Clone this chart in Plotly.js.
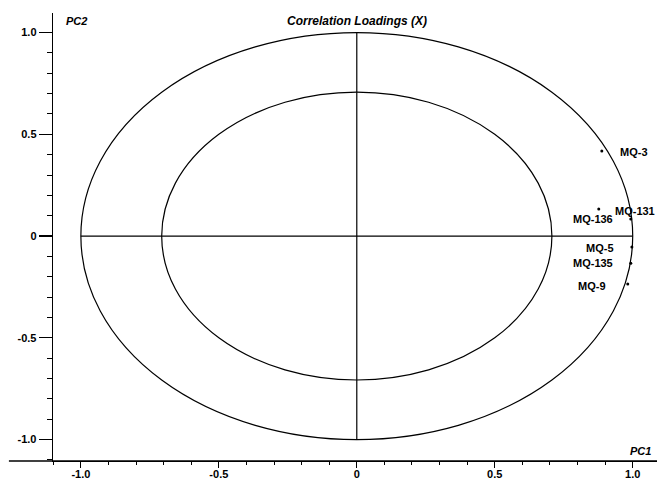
<!DOCTYPE html>
<html>
<head>
<meta charset="utf-8">
<script src="https://cdn.plot.ly/plotly-3.0.1.min.js"></script>
<style>html,body{margin:0;padding:0;background:#fff;}#chart{width:657px;height:481px;}</style>
</head>
<body>
<div id="chart"></div>
<script>
// Data
const sensors = ["MQ-3", "MQ-136", "MQ-131", "MQ-5", "MQ-135", "MQ-9"];
const pc1 = [0.888, 0.877, 0.993, 0.997, 0.993, 0.982];
const pc2 = [0.418, 0.133, 0.084, -0.054, -0.133, -0.236];
const xTickVals = [-1, -0.5, 0, 0.5, 1];
const xTickText = ["-1.0", "-0.5", "0", "0.5", "1.0"];
const yTickVals = [-1, -0.5, 0, 0.5, 1];
const yTickText = ["-1.0", "-0.5", "0", "0.5", "1.0"];
const outerRadius = 1.0;
const innerRadius = Math.sqrt(0.5);

// Label placement (style only)
const labelPlacement = {
  "MQ-3":   {xanchor: "left",   xshift: 16,  yshift: -1},
  "MQ-136": {xanchor: "center", xshift: -6,  yshift: -10},
  "MQ-131": {xanchor: "center", xshift: 4,   yshift: 8},
  "MQ-5":   {xanchor: "right",  xshift: -16, yshift: -1},
  "MQ-135": {xanchor: "right",  xshift: -16, yshift: 0},
  "MQ-9":   {xanchor: "right",  xshift: -20, yshift: -2}
};

const FONT = "Liberation Sans, Arial, sans-serif";
const boldFont = {family: FONT, size: 11, color: "#000", weight: "bold"};

const trace = {
  x: pc1, y: pc2, mode: "markers", type: "scatter",
  marker: {color: "#000", size: 3},
  hoverinfo: "text", text: sensors, showlegend: false, cliponaxis: false
};

const annotations = sensors.map((s, i) => ({
  x: pc1[i], y: pc2[i], xref: "x", yref: "y", text: s, showarrow: false,
  xanchor: labelPlacement[s].xanchor, yanchor: "middle",
  xshift: labelPlacement[s].xshift, yshift: labelPlacement[s].yshift,
  font: boldFont
}));
annotations.push({x: 0, y: 1.057, xref: "x", yref: "y", text: "Correlation Loadings (X)", showarrow: false,
  xanchor: "center", yanchor: "middle", font: {family: FONT, size: 12, color: "#000", weight: "bold", style: "italic"}});
annotations.push({x: -1.062, y: 1.057, xref: "x", yref: "y", text: "PC2", showarrow: false,
  xanchor: "left", yanchor: "middle", font: {family: FONT, size: 11, color: "#000", weight: "bold", style: "italic"}});
annotations.push({x: 0.982, y: -1.057, xref: "x", yref: "y", text: "PC1", showarrow: false,
  xanchor: "left", yanchor: "middle", font: {family: FONT, size: 11, color: "#000", weight: "bold", style: "italic"}});

const lineStyle = {color: "#000", width: 1.2};
const shapes = [
  {type: "circle", xref: "x", yref: "y", x0: -outerRadius, x1: outerRadius, y0: -outerRadius, y1: outerRadius, line: lineStyle},
  {type: "circle", xref: "x", yref: "y", x0: -innerRadius, x1: innerRadius, y0: -innerRadius, y1: innerRadius, line: lineStyle},
  {type: "line", xref: "x", yref: "y", x0: -outerRadius, x1: outerRadius, y0: 0, y1: 0, line: lineStyle},
  {type: "line", xref: "x", yref: "y", x0: 0, x1: 0, y0: -outerRadius, y1: outerRadius, line: lineStyle},
  {type: "line", xref: "paper", yref: "paper", x0: -0.073, x1: 1, y0: 0, y1: 0, line: {color: "#000", width: 1.3}}
];

const layout = {
  width: 657, height: 481,
  margin: {l: 53, r: 0, t: 13, b: 20, pad: 0},
  paper_bgcolor: "#fff", plot_bgcolor: "#fff",
  showlegend: false,
  font: {family: FONT, color: "#000"},
  xaxis: {
    range: [-1.101, 1.088], showgrid: false, zeroline: false,
    showline: true, linecolor: "#000", linewidth: 1.3,
    tickmode: "array", tickvals: xTickVals, ticktext: xTickText,
    ticks: "outside", ticklen: 6, tickwidth: 1.2, tickcolor: "#000",
    ticklabelstandoff: -4,
    tickfont: boldFont,
    minor: {dtick: 0.1, tick0: 0, ticks: "outside", ticklen: 3, tickwidth: 1, tickcolor: "#000", showgrid: false}
  },
  yaxis: {
    range: [-1.105, 1.096], showgrid: false, zeroline: false,
    showline: true, linecolor: "#000", linewidth: 1.3,
    tickmode: "array", tickvals: yTickVals, ticktext: yTickText,
    ticks: "outside", ticklen: 13, tickwidth: 1.2, tickcolor: "#000",
    tickfont: boldFont,
    minor: {dtick: 0.1, tick0: 0, ticks: "outside", ticklen: 5, tickwidth: 1, tickcolor: "#000", showgrid: false}
  },
  shapes: shapes,
  annotations: annotations
};

Plotly.newPlot("chart", [trace], layout, {displayModeBar: false, staticPlot: true});
</script>
</body>
</html>
